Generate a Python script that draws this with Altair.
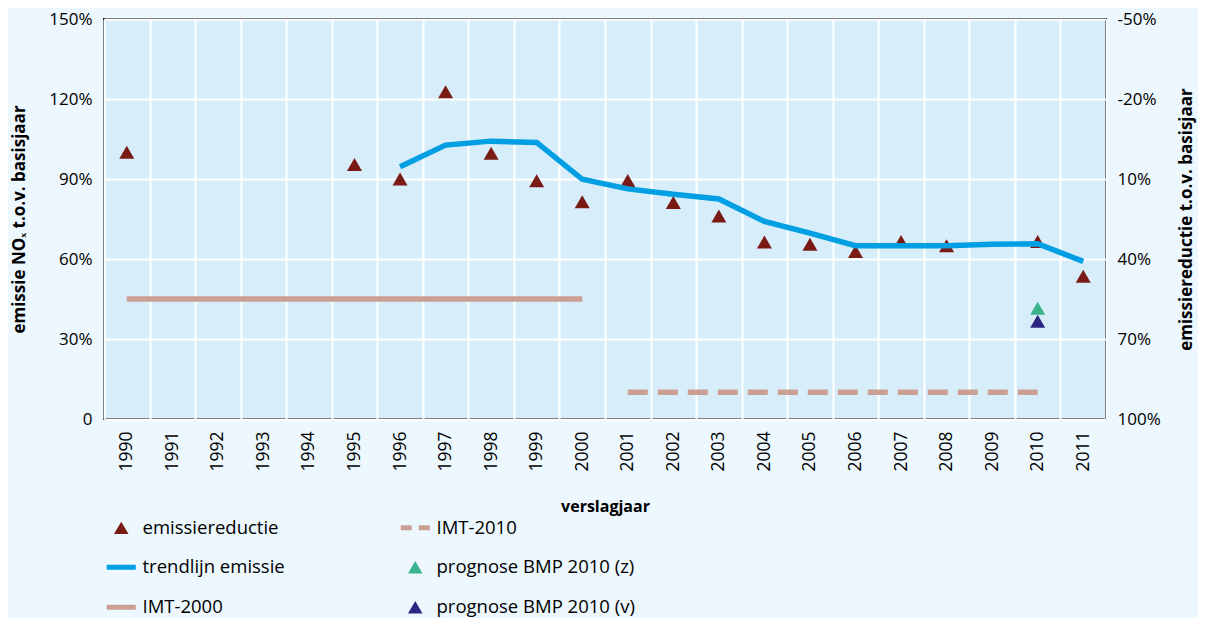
import altair as alt
import pandas as pd

years = [str(y) for y in range(1990, 2012)]

red_years = ["1990", "1995", "1996", "1997", "1998", "1999", "2000", "2001", "2002",
             "2003", "2004", "2005", "2006", "2007", "2008", "2010", "2011"]
red_values = [100, 95.4, 90, 122.7, 99.7, 89.3, 81.5, 89.4, 81.2,
              76.1, 66.4, 65.5, 62.8, 66.6, 65, 66.6, 53.5]

trend_years = [str(y) for y in range(1996, 2012)]
trend_values = [94.6, 102.7, 104.2, 103.7, 89.9, 86.3, 84.3, 82.5,
                74.1, 69.7, 65.0, 65.0, 65.0, 65.5, 65.7, 59.1]

imt2000_years = ["1990", "2000"]
imt2000_values = [45, 45]
imt2010_years = ["2001", "2010"]
imt2010_values = [10, 10]
progz_years = ["2010"]
progz_values = [41.5]
progv_years = ["2010"]
progv_values = [36.7]

left_ticks = [0, 30, 60, 90, 120, 150]
right_ticks = [-50, -20, 10, 40, 70, 100]

legend_order = ["emissiereductie", "trendlijn emissie", "IMT-2000",
                "IMT-2010", "prognose BMP 2010 (z)", "prognose BMP 2010 (v)"]
legend_colors = ["#7a1a14", "#009fe3", "#cc9f95", "#cc9f95", "#3bb38c", "#2b2680"]


def frame(ys, vs, name):
    return pd.DataFrame({"year": ys, "value": vs, "series": name})


df_red = frame(red_years, red_values, "emissiereductie")
df_trend = frame(trend_years, trend_values, "trendlijn emissie")
df_imt2000 = frame(imt2000_years, imt2000_values, "IMT-2000")
df_imt2010 = frame(imt2010_years, imt2010_values, "IMT-2010")
df_pz = frame(progz_years, progz_values, "prognose BMP 2010 (z)")
df_pv = frame(progv_years, progv_values, "prognose BMP 2010 (v)")

FONT = "Open Sans"

x_enc = alt.X(
    "year:N",
    scale=alt.Scale(domain=years, paddingInner=0, paddingOuter=0),
    axis=alt.Axis(
        title="verslagjaar", labelAngle=270, tickBand="extent", grid=True,
        gridColor="white", gridWidth=2, ticks=False, domain=False,
        labelPadding=12, labelFontSize=17.5, labelColor="black",
        titleFontSize=16, titleFontWeight="bold", titleColor="black",
        titlePadding=27,
    ),
)

y_enc = alt.Y(
    "value:Q",
    scale=alt.Scale(domain=[0, 150], nice=False),
    axis=alt.Axis(
        values=left_ticks,
        labelExpr="datum.value == 0 ? '0' : datum.value + '%'",
        title="emissie NOₓ t.o.v. basisjaar", grid=True, gridColor="white",
        gridWidth=2, ticks=False, domain=False, labelPadding=12,
        labelFontSize=17, labelColor="black", titleFontSize=17,
        titleFontWeight="bold", titleColor="black", titlePadding=20,
    ),
)

line_names = "['trendlijn emissie','IMT-2000','IMT-2010']"
is_line = f"indexof({line_names}, datum.value) >= 0"
tri_path = "M0,-0.43L-0.5,0.43L0.5,0.43Z"

color_enc = alt.Color(
    "series:N",
    scale=alt.Scale(domain=legend_order, range=legend_colors),
    legend=alt.Legend(
        title=None, orient="none", legendX=8, legendY=499, columns=2,
        columnPadding=105, rowPadding=19, padding=0, symbolSize=841,
        labelFont=FONT, labelFontSize=18.5, labelColor="black", labelOffset=12,
        labelLimit=400,
        symbolType=alt.ExprRef(f"{is_line} ? 'stroke' : '{tri_path}'"),
        symbolStrokeWidth=alt.ExprRef(f"{is_line} ? 5 : 0"),
        symbolDash=alt.ExprRef("datum.value == 'IMT-2010' ? [11, 7] : [1, 0]"),
        symbolFillColor=alt.ExprRef("scale('color', datum.value)"),
        symbolStrokeColor=alt.ExprRef("scale('color', datum.value)"),
        symbolOpacity=1,
    ),
)

imt2000 = alt.Chart(df_imt2000).mark_line(strokeWidth=5.5, strokeCap="butt").encode(
    x=x_enc, y=y_enc, color=color_enc)
imt2010 = alt.Chart(df_imt2010).mark_line(strokeWidth=5.5, strokeDash=[20, 10], strokeCap="butt").encode(
    x=x_enc, y=y_enc, color=color_enc)
tri = alt.Chart(pd.concat([df_red, df_pz, df_pv])).mark_point(
    shape="triangle-up", filled=True, size=225, opacity=1).encode(
    x=x_enc, y=y_enc, color=color_enc)
trend = alt.Chart(df_trend).mark_line(strokeWidth=5.5).encode(
    x=x_enc, y=y_enc, color=color_enc)

main = alt.layer(imt2000, imt2010, tri, trend)

right = alt.Chart(pd.DataFrame({"r": right_ticks})).mark_point(opacity=0).encode(
    y=alt.Y(
        "r:Q",
        scale=alt.Scale(domain=[-50, 100], reverse=True, nice=False),
        axis=alt.Axis(
            orient="right", values=right_ticks, labelExpr="datum.value + '%'",
            title="emissiereductie t.o.v. basisjaar", titleAngle=270,
            grid=False, ticks=False, domain=False, labelPadding=11,
            labelFontSize=17, labelColor="black", titleFontSize=17,
            titleFontWeight="bold", titleColor="black", titlePadding=35,
        ),
    )
)

chart = alt.layer(main, right).resolve_scale(y="independent").properties(
    width=1002, height=400,
    autosize=alt.AutoSizeParams(type="none"),
    padding={"left": 96, "top": 11, "right": 92, "bottom": 199},
    background="#edf7fe",
).configure(font=FONT).configure_view(
    fill="#d7eefa", stroke="black", strokeWidth=2
)

chart.save("out.html", embed_options={"renderer": "svg", "actions": False})
